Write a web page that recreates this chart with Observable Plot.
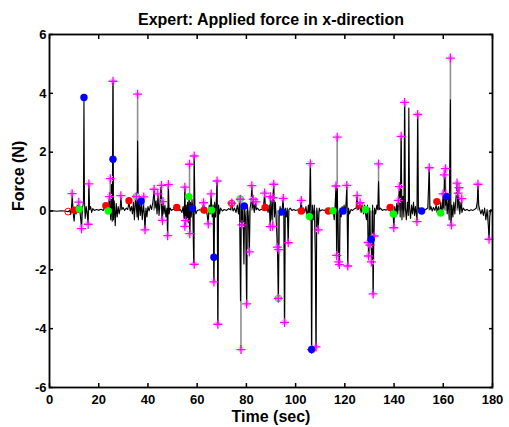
<!DOCTYPE html>
<html>
<head>
<meta charset="utf-8">
<script src="https://cdn.jsdelivr.net/npm/d3@7"></script>
<script src="https://cdn.jsdelivr.net/npm/@observablehq/plot@0.6"></script>
<style>
  html, body { margin: 0; padding: 0; background: white; }
</style>
</head>
<body>
<div id="chart"></div>
<script>
const titleText = "Expert: Applied force in x-direction";
const xLabel = "Time (sec)";
const yLabel = "Force (N)";
const xTicks = [0, 20, 40, 60, 80, 100, 120, 140, 160, 180];
const yTicks = [-6, -4, -2, 0, 2, 4, 6];

// black force signal [time, force]
const forceSignal = [
[0,0],[1.5,0.01],[3,-0.01],[4.5,0.01],[6,0],[7.6,-0.02],[8.2,0.03],[8.6,-0.12],[9.0,0.2],[9.3,0.5],[9.6,-0.05],[10.0,-0.35],[10.4,0.05],[10.8,-0.1],[11.3,0.2],[11.7,-0.05],[12.2,0.1],[12.6,-0.2],[13.0,-0.55],[13.4,0.1],[13.8,0.3],[14.0,3.86],[14.2,0.4],[14.5,-0.25],[14.9,0.15],[15.3,-0.1],[15.7,-0.42],[16.0,0.9],[16.3,0.05],[16.7,0.15],[17.1,-0.05],[17.6,0.08],[18.2,0.02],[19,0.05],[20,0.03],[21,0.06],[21.8,0.02],[22.4,0.1],[22.9,0.15],[23.4,-0.05],[23.9,0.05],[24.3,0.45],[24.6,0.1],[24.9,-0.3],[25.2,0.9],[25.5,-0.35],[25.8,4.41],[26.0,-0.3],[26.3,0.35],[26.7,-0.5],[27.1,0.25],[27.5,-0.2],[27.9,0.15],[28.3,-0.1],[28.7,0.1],[29.0,0.45],[29.4,0.05],[29.9,0.12],[30.5,0.02],[31.2,0.1],[31.8,0.05],[32.3,0.3],[32.8,0],[33.3,0.15],[33.7,-0.1],[34.1,0.3],[34.5,-0.3],[34.9,0.45],[35.3,0.1],[35.6,-0.2],[35.8,2.38],[36.1,-0.3],[36.5,0.4],[36.9,-0.15],[37.3,0.3],[37.7,-0.3],[38.1,0.2],[38.5,-0.1],[38.8,-0.62],[39.2,0.1],[39.6,-0.2],[40.0,0.15],[40.5,0],[41.0,0.2],[41.5,0.05],[42.0,0.3],[42.5,0.7],[42.9,0.1],[43.3,0.35],[43.7,-0.1],[44.1,0.55],[44.5,-0.15],[44.9,0.3],[45.3,0.85],[45.7,-0.3],[46.1,0.3],[46.5,-0.1],[46.9,0.2],[47.3,-0.2],[47.7,0.1],[48.0,-0.82],[48.3,0.88],[48.6,-0.1],[49.0,0.1],[49.6,0.02],[50.3,0.06],[51.0,0.03],[51.7,0.1],[52.5,0.02],[53.2,0.05],[53.8,-0.05],[54.3,0.15],[54.7,-0.3],[55.0,0.8],[55.2,-0.5],[55.5,0.2],[55.8,-0.35],[56.1,0.3],[56.4,-0.4],[56.7,0.5],[57.0,-0.75],[57.3,0.3],[57.6,-0.2],[57.9,0.4],[58.2,0.1],[58.6,-1.8],[58.8,1.87],[59.1,0.1],[59.5,-0.1],[60,0.02],[61,0.04],[62,0.02],[62.6,0.25],[63,0],[63.5,0.06],[64.0,-0.1],[64.5,-0.42],[64.9,0.2],[65.3,-0.1],[65.7,0.55],[66.1,-0.2],[66.5,0.2],[66.8,-2.4],[67.1,0.3],[67.5,-0.2],[67.8,0.4],[68.1,1.0],[68.4,-3.85],[68.7,0.2],[69.1,-0.1],[69.5,0.1],[70.2,0],[71,0.05],[72,0.02],[72.8,0.08],[73.5,0.04],[74.1,0.25],[74.6,0],[75.2,0.1],[75.8,-0.05],[76.3,0.2],[76.8,-0.1],[77.2,0.35],[77.6,-3.05],[77.9,0.2],[78.2,-0.45],[78.6,0.2],[79.0,-1.8],[79.3,0.1],[79.7,-0.3],[80.1,-3.16],[80.4,0.2],[80.8,-0.2],[81.2,-1.39],[81.5,0.1],[81.9,0.3],[82.2,0.85],[82.5,0.1],[82.8,0.4],[83.2,-0.05],[83.6,0.3],[84.0,0.05],[84.5,0.1],[85.2,0.02],[86,0.06],[86.8,0.03],[87.4,0.55],[87.8,0.05],[88.3,0.15],[88.8,-0.05],[89.3,0.2],[89.7,-0.5],[90.0,0.4],[90.4,-0.3],[90.8,0.5],[91.1,0.9],[91.4,-0.2],[91.8,0.3],[92.2,-0.5],[92.6,-1.2],[93.0,-2.97],[93.3,-0.2],[93.7,0.15],[94.1,-0.15],[94.5,0.05],[94.9,0.4],[95.2,-0.1],[95.5,-3.75],[95.8,0.1],[96.2,-0.2],[96.6,0.1],[97.0,-1.05],[97.3,0.05],[97.8,0.1],[98.5,0.02],[99.3,0.05],[100,0.02],[101,0.04],[101.8,0.02],[102.3,0.3],[102.7,0],[103.2,0.1],[103.7,-0.05],[104.2,0.15],[104.7,-0.2],[105.2,0.2],[105.6,-0.3],[106.0,1.6],[106.3,-0.5],[106.5,-4.71],[106.8,0.2],[107.2,-0.3],[107.6,0.2],[108.0,-1.5],[108.3,-4.62],[108.6,0.1],[108.9,-0.2],[109.2,-0.62],[109.6,0.1],[110,0],[110.8,0.04],[111.6,0.02],[112.4,0.05],[113.3,0.02],[114,0.08],[114.6,-0.05],[115.2,0.1],[115.7,-0.3],[116.1,0.3],[116.4,0.8],[116.7,-1.5],[116.9,0.9],[117.2,-0.5],[117.5,-1.73],[117.8,-1.8],[118.1,0.1],[118.5,-0.2],[118.9,0.15],[119.3,-0.05],[119.7,0.2],[120.1,-0.1],[120.5,0.3],[120.8,0.85],[121.2,-1.85],[121.5,0.1],[121.9,-0.1],[122.5,0.05],[123.2,0.02],[124,0.08],[124.6,0.1],[125.0,0.5],[125.4,0.05],[125.8,0.2],[126.2,0.25],[126.6,-0.05],[127.1,0.15],[127.6,-0.1],[128.0,0.2],[128.4,-0.1],[128.8,-0.3],[129.2,0.2],[129.5,-1.05],[129.8,-1.5],[130.1,0.1],[130.4,-1.15],[130.7,-0.95],[131.0,-1.7],[131.3,0.2],[131.5,-2.82],[131.8,-0.8],[132.1,0.1],[132.5,-0.1],[133.0,0.2],[133.4,0.05],[133.7,1.0],[134.0,0.05],[134.5,0.1],[135.2,0.02],[136,0.05],[136.8,0.03],[137.6,0.08],[138.4,0.1],[138.9,-0.1],[139.4,0.2],[139.9,-0.55],[140.3,0.15],[140.7,-0.2],[141.1,0.25],[141.5,-0.1],[141.8,0.35],[142.2,0.8],[142.5,-0.2],[142.9,2.54],[143.2,-0.3],[143.6,0.5],[144.0,-0.2],[144.3,3.69],[144.6,0.1],[145.0,-0.3],[145.4,0.3],[145.8,-0.15],[146.0,3.5],[146.3,0.1],[146.7,-0.25],[147.1,0.2],[147.5,-0.1],[147.9,0.3],[148.3,-0.15],[148.7,0.15],[149.3,-0.35],[149.6,3.28],[149.9,0.05],[150.3,0.1],[150.9,0.02],[151.6,0.05],[152.3,0.02],[153,0.06],[153.7,0.1],[154.3,1.45],[154.6,0.05],[155.0,0.15],[155.5,0],[156.0,0.12],[156.6,0.02],[157.1,0.2],[157.5,-0.05],[158.0,0.15],[158.5,-0.1],[159.0,0.3],[159.4,-0.15],[159.9,0.5],[160.2,0.1],[160.6,1.3],[160.9,0.2],[161.2,0.55],[161.6,-0.1],[162.0,0.4],[162.4,-0.3],[162.9,3.78],[163.1,-0.45],[163.5,0.2],[163.9,-0.2],[164.3,0.3],[164.7,-0.1],[165.1,0.4],[165.6,0.9],[165.9,0.1],[166.3,0.5],[166.7,-0.1],[167.2,0.3],[167.6,-0.05],[168.1,0.1],[168.8,0.02],[169.6,0.05],[170.5,0.01],[171.3,0.04],[172.1,0.02],[172.8,0.06],[173.4,0.1],[173.8,0.3],[174.1,0.88],[174.4,0.2],[174.8,0.05],[175.3,-0.1],[175.8,0.05],[176.3,-0.15],[176.8,0.1],[177.3,-0.3],[177.8,0.05],[178.3,-0.5],[178.6,-0.95],[178.9,-0.2],[179.3,0.05],[180,0]
];

// magenta peak markers [time, force]
const peakMarkers = [
[9.2,0.59],[11.9,0.30],[13.0,-0.60],[15.7,-0.45],[16.0,0.92],[24.4,0.49],[24.7,1.10],[25.8,4.41],[29.0,0.52],[35.3,0.49],[35.8,3.97],[38.3,0.48],[38.8,-0.64],[42.5,0.74],[44.0,0.58],[45.5,0.87],[45.9,-0.32],[46.1,0.32],[48.0,-0.84],[48.3,0.90],[55.0,0.81],[55.0,-0.52],[55.3,-0.33],[56.9,1.59],[57.0,-0.77],[58.8,1.87],[58.8,-1.81],[62.6,0.28],[64.5,-0.44],[65.7,0.58],[66.8,-2.41],[68.1,1.02],[68.4,-3.85],[74.1,0.27],[77.5,0.40],[77.8,-4.71],[78.2,-0.47],[80.1,-3.16],[81.2,-1.39],[82.2,0.86],[82.8,0.40],[83.9,0.31],[87.4,0.61],[89.7,0.49],[89.7,-0.53],[90.7,-0.52],[90.8,0.45],[91.1,0.91],[92.6,-1.23],[93.1,-1.31],[93.0,-2.97],[95.0,0.43],[95.5,-3.79],[97.0,-1.08],[102.3,0.36],[106.0,1.61],[106.5,-4.71],[108.3,-4.62],[109.2,-0.64],[116.4,0.85],[116.7,-1.51],[116.9,2.51],[117.5,-1.73],[117.8,-1.82],[120.8,0.87],[121.2,-1.87],[125.0,0.52],[126.2,0.28],[129.5,-1.07],[129.6,-1.53],[130.2,-1.16],[130.8,-1.73],[131.5,-2.82],[131.9,-0.85],[133.7,1.60],[139.9,-0.57],[141.7,0.36],[142.2,0.83],[142.9,2.54],[144.3,3.69],[149.3,-0.36],[149.6,3.28],[154.3,1.47],[159.9,0.58],[160.4,1.23],[160.9,1.44],[161.0,0.58],[162.9,5.20],[163.3,-0.48],[165.6,0.95],[166.0,0.61],[166.4,0.79],[167.5,0.42],[174.1,0.91],[178.6,-0.96]
];

const redPoints = [[10.3,0.03],[22.9,0.18],[32.3,0.35],[51.7,0.12],[62.8,0.03],[74.0,0.26],[87.6,0.12],[102.3,0.0],[113.3,0.0],[126.0,0.20],[138.4,0.12],[157.4,0.32]];
const greenPoints = [[12.1,0.07],[23.9,0.0],[35.3,0.49],[56.6,0.49],[65.8,0.03],[77.5,0.41],[93.0,-2.97],[105.6,-0.19],[115.2,0.01],[128.4,0.05],[139.7,-0.10],[158.9,-0.07]];
const bluePoints = [[14.0,3.86],[25.8,1.76],[37.2,0.33],[58.1,0.09],[66.8,-1.57],[79.1,0.17],[94.5,-0.03],[106.5,-4.71],[119.2,0.0],[130.7,-0.97],[151.2,0.0],[161.4,0.49]];
const startPoint = [[7.6,-0.02]];

const fx = d => d[0], fy = d => d[1];
const font = "'Liberation Sans', Arial, Helvetica, sans-serif";

const chart = Plot.plot({
  width: 509,
  height: 427,
  marginLeft: 49,
  marginRight: 17,
  marginTop: 34,
  marginBottom: 40,
  style: {fontFamily: font, fontWeight: "bold", fontSize: "13px", background: "white", color: "black"},
  x: {domain: [0, 180]},
  y: {domain: [-6, 6]},
  marks: [
    Plot.ruleX(peakMarkers, {x: fx, y1: 0, y2: fy, stroke: "#8f8f8f", strokeWidth: 1.6}),
    Plot.line(forceSignal, {x: fx, y: fy, stroke: "black", strokeWidth: 1.1}),
    Plot.dot(redPoints, {x: fx, y: fy, r: 3.7, fill: "#ff0000"}),
    Plot.dot(greenPoints, {x: fx, y: fy, r: 3.7, fill: "#00ff00"}),
    Plot.dot(peakMarkers, {x: fx, y: fy, symbol: "times", r: 2.3, stroke: "#ff99ff", strokeWidth: 1.1}),
    Plot.dot(peakMarkers, {x: fx, y: fy, symbol: "plus", r: 3.0, stroke: "#ff00ff", strokeWidth: 1.3}),
    Plot.dot(bluePoints, {x: fx, y: fy, r: 3.7, fill: "#0000ff"}),
    Plot.dot(startPoint, {x: fx, y: fy, r: 3.4, stroke: "#ff0000", fill: "none", strokeWidth: 1}),
    Plot.frame({stroke: "black", strokeWidth: 1.8}),
    Plot.axisX({ticks: xTicks, tickSize: -4, tickPadding: 11, tickFormat: d => String(d), label: null, strokeWidth: 1.5, fontSize: 13, fontWeight: "bold"}),
    Plot.axisX({anchor: "top", ticks: xTicks, tickSize: -4, tickFormat: () => "", label: null, strokeWidth: 1.5}),
    Plot.axisY({ticks: yTicks, tickSize: -4, tickPadding: 7, tickFormat: d => String(d), label: null, strokeWidth: 1.5, fontSize: 13, fontWeight: "bold"}),
    Plot.axisY({anchor: "right", ticks: yTicks, tickSize: -4, tickFormat: () => "", label: null, strokeWidth: 1.5}),
    Plot.text([titleText], {frameAnchor: "top", dy: -15, lineAnchor: "middle", fontSize: 16, fontWeight: "bold"}),
    Plot.text([xLabel], {frameAnchor: "bottom", dy: 29, lineAnchor: "middle", fontSize: 16, fontWeight: "bold"}),
    Plot.text([yLabel], {frameAnchor: "left", dx: -31, rotate: -90, lineAnchor: "middle", fontSize: 16, fontWeight: "bold"})
  ]
});
document.getElementById("chart").appendChild(chart);
</script>
</body>
</html>
